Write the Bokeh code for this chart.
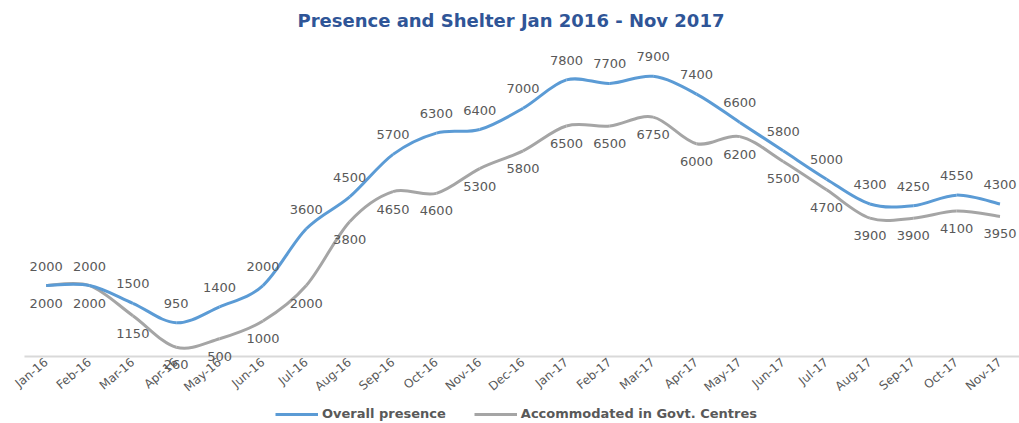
import math
from bokeh.plotting import figure
from bokeh.models import FixedTicker, Range1d, Legend, LegendItem, ColumnDataSource
from bokeh.core.properties import value
from bokeh.embed import file_html
from bokeh.resources import INLINE

months = ["Jan-16", "Feb-16", "Mar-16", "Apr-16", "May-16", "Jun-16", "Jul-16", "Aug-16",
          "Sep-16", "Oct-16", "Nov-16", "Dec-16", "Jan-17", "Feb-17", "Mar-17", "Apr-17",
          "May-17", "Jun-17", "Jul-17", "Aug-17", "Sep-17", "Oct-17", "Nov-17"]
overall = [2000, 2000, 1500, 950, 1400, 2000, 3600, 4500, 5700, 6300, 6400, 7000,
           7800, 7700, 7900, 7400, 6600, 5800, 5000, 4300, 4250, 4550, 4300]
accommodated = [2000, 2000, 1150, 260, 500, 1000, 2000, 3800, 4650, 4600, 5300, 5800,
                6500, 6500, 6750, 6000, 6200, 5500, 4700, 3900, 3900, 4100, 3950]

BLUE = "#5B9BD5"
GREY = "#A5A5A5"
TXT = "#595959"
FONT = "DejaVu Sans"

X_START, X_END = -1.053, 22.45

p = figure(frame_width=1019, frame_height=385, output_backend="svg", toolbar_location=None,
           x_range=Range1d(X_START, X_END), y_range=Range1d(-1890, 8967),
           y_axis_location=None, min_border_left=0, min_border_right=0,
           min_border_top=9, min_border_bottom=0)
p.outline_line_color = None
p.xgrid.visible = False
p.ygrid.visible = False

p.title.text = "Presence and Shelter Jan 2016 - Nov 2017"
p.title.align = "left"
p.title.offset = 297
p.title.text_font = FONT
p.title.text_font_size = "18px"
p.title.text_font_style = "bold"
p.title.text_color = "#2F5597"
p.title.standoff = 15

xs = list(range(len(months)))

# zero baseline across the category area
p.segment(x0=[-0.5], y0=[0], x1=[X_END], y1=[0], line_color="#D9D9D9", line_width=2)


def bezier_source(ys):
    n = len(ys)
    d = dict(x0=[], y0=[], x1=[], y1=[], cx0=[], cy0=[], cx1=[], cy1=[])
    for i in range(n - 1):
        pm = i - 1 if i > 0 else i
        pp = i + 2 if i + 2 < n else i + 1
        d["x0"].append(xs[i]); d["y0"].append(ys[i])
        d["x1"].append(xs[i + 1]); d["y1"].append(ys[i + 1])
        d["cx0"].append(xs[i] + (xs[i + 1] - xs[pm]) / 6)
        d["cy0"].append(ys[i] + (ys[i + 1] - ys[pm]) / 6)
        d["cx1"].append(xs[i + 1] - (xs[pp] - xs[i]) / 6)
        d["cy1"].append(ys[i + 1] - (ys[pp] - ys[i]) / 6)
    return ColumnDataSource(d)


p.bezier(x0="x0", y0="y0", x1="x1", y1="y1", cx0="cx0", cy0="cy0", cx1="cx1", cy1="cy1",
         source=bezier_source(accommodated), line_color=GREY, line_width=3)
p.bezier(x0="x0", y0="y0", x1="x1", y1="y1", cx0="cx0", cy0="cy0", cx1="cx1", cy1="cy1",
         source=bezier_source(overall), line_color=BLUE, line_width=3)

# legend proxies (drawn off-range)
l1 = p.line(x=[-5, -4], y=[-9000, -9000], line_color=BLUE, line_width=3)
l2 = p.line(x=[-5, -4], y=[-9000, -9000], line_color=GREY, line_width=3)

# data labels
p.text(x=xs, y=overall, text=[str(v) for v in overall], text_align="center",
       text_baseline="bottom", y_offset=-15, text_font=value(FONT),
       text_font_size="13px", text_color=TXT)
p.text(x=xs, y=accommodated, text=[str(v) for v in accommodated], text_align="center",
       text_baseline="top", y_offset=13, text_font=value(FONT),
       text_font_size="13px", text_color=TXT)

ax = p.xaxis[0]
ax.ticker = FixedTicker(ticks=xs)
ax.major_label_overrides = {i: m for i, m in enumerate(months)}
ax.major_label_orientation = 0.70
ax.major_label_text_font = FONT
ax.major_label_text_font_size = "12px"
ax.major_label_text_color = TXT
ax.axis_line_color = None
ax.major_tick_line_color = None
ax.minor_tick_line_color = None
ax.major_tick_out = 0
ax.major_tick_in = 0
ax.minor_tick_out = 0
ax.fixed_location = -1213
ax.major_label_standoff = -39

legend = Legend(items=[LegendItem(label="Overall presence", renderers=[l1]),
                       LegendItem(label="Accommodated in Govt. Centres", renderers=[l2])],
                orientation="horizontal", location=(275, 2),
                label_text_font=FONT, label_text_font_size="13px",
                label_text_font_style="bold", label_text_color=TXT,
                glyph_width=43, glyph_height=14, label_height=14, spacing=28,
                border_line_color=None, background_fill_alpha=0,
                padding=0, margin=0, label_standoff=4)
p.add_layout(legend, "center")

open("out.html", "w").write(file_html(p, INLINE))
